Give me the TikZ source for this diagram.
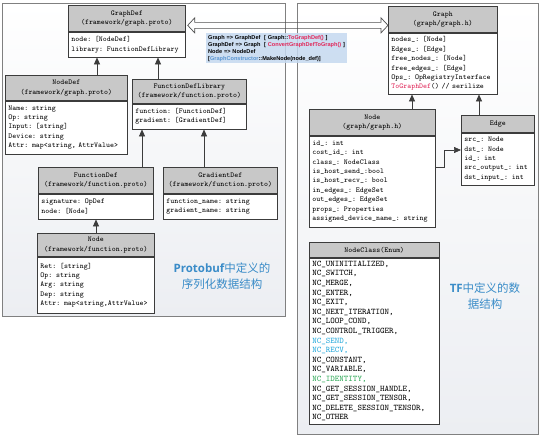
\documentclass[tikz,border=0pt]{standalone}
\usepackage{fontspec}
\usetikzlibrary{arrows.meta,shadows,calc}
\newfontfamily\cjkf{Noto Sans CJK SC}
\newfontfamily\opensans{Open Sans}
\newfontfamily\lsans{Liberation Sans}
\definecolor{hdrgray}{RGB}{200,200,200}
\definecolor{boxline}{RGB}{60,60,60}
\definecolor{panelline}{RGB}{128,128,128}
\definecolor{panelbot}{RGB}{236,238,242}
\definecolor{lblue}{RGB}{58,140,200}
\definecolor{notebg}{RGB}{197,217,240}
\definecolor{fnred}{RGB}{225,40,90}
\definecolor{ctorblue}{RGB}{90,150,210}
\definecolor{sendcyan}{RGB}{40,170,220}
\definecolor{idgreen}{RGB}{50,170,90}
\definecolor{arrgray}{RGB}{80,80,80}
\newcommand\bodyfont{\ttfamily\fontsize{7.5}{9.4}\selectfont}
\newcommand\enumfont{\ttfamily\fontsize{8.6}{9.6}\selectfont}
\tikzset{
 hdr/.style={draw=boxline, line width=0.7pt, fill=hdrgray, anchor=north west, inner sep=0pt, align=center, font=\bodyfont},
 bdy/.style={draw=boxline, line width=0.7pt, fill=white, anchor=north west, inner xsep=3pt, inner ysep=0pt, align=left, font=\bodyfont},
 panel/.style={draw=panelline, line width=0.8pt, top color=white, bottom color=panelbot, drop shadow={shadow xshift=1pt, shadow yshift=-1pt, opacity=0.35}},
 inh/.style={draw=boxline, line width=0.7pt, -{Triangle[width=6pt,length=7pt]}},
 cnlabel/.style={text=lblue, font=\cjkf\fontsize{11.5}{16}\selectfont, align=center},
}
\newcommand\clsbox[8]{%
  \pgfmathsetmacro\clstw{#4-6}%
  \node[hdr, minimum width=#4pt, minimum height=#5pt] (#1-h) at (#2,#3) {#7};
  \node[bdy, text width=\clstw pt, minimum height=#6pt] (#1-b) at (#1-h.south west) {#8};
}
\begin{document}
\begin{tikzpicture}[x=1pt,y=-1pt]
\useasboundingbox (0,0) rectangle (543,439);
% panels
\draw[panel] (2,3) rectangle (285,316);
\draw[panel] (297,3) rectangle (538,434);
% left side classes
\clsbox{gd}{68}{5}{117}{26}{25}{GraphDef\\(framework/graph.proto)}{node: [NodeDef]\\library: FunctionDefLibrary}
\clsbox{nd}{5}{75}{122}{25}{53}{NodeDef\\(framework/graph.proto)}{Name: string\\Op: string\\Input: [string]\\Device: string\\Attr: map<string, AttrValue>}
\clsbox{fdl}{132}{79}{114}{24}{25}{FunctionDefLibrary\\(framework/function.proto)}{function: [FunctionDef]\\gradient: [GradientDef]}
\clsbox{fd}{38}{167}{115}{26}{25}{FunctionDef\\(framework/function.proto)}{signature: OpDef\\node: [Node]}
\clsbox{grd}{163}{167}{114}{26}{25}{GradientDef\\(framework/function.proto)}{function\_name: string\\gradient\_name: string}
\clsbox{np}{37}{233}{117}{23}{56}{Node\\(framework/function.proto)}{Ret: [string]\\Op: string\\Arg: string\\Dep: string\\Attr: map<string,AttrValue>}
% right side classes
\clsbox{g}{388}{6}{109}{26}{61}{Graph\\(graph/graph.h)}{nodes\_: [Node]\\Edges\_: [Edge]\\free\_nodes\_: [Node]\\free\_edges\_: [Edge]\\Ops\_: OpRegistryInterface\\\textcolor{fnred}{ToGraphDef}() // serilize}
\clsbox{ng}{309}{109}{126}{26}{91}{Node\\(graph/graph.h)}{id\_: int\\cost\_id\_: int\\class\_: NodeClass\\is\_host\_send\_:bool\\is\_host\_recv\_: bool\\in\_edges\_: EdgeSet\\out\_edges\_: EdgeSet\\props\_: Properties\\assigned\_device\_name\_: string}
\clsbox{e}{461}{115}{73}{17}{52}{Edge}{src\_: Node\\dst\_: Node\\id\_: int\\src\_output\_: int\\dst\_input\_: int}
\node[hdr, minimum width=130pt, minimum height=15pt] (nc-h) at (309,242) {NodeClass(Enum)};
\node[bdy, font=\enumfont, text width=124pt, minimum height=166pt] (nc-b) at (nc-h.south west) {NC\_UNINITIALIZED,\\NC\_SWITCH,\\NC\_MERGE,\\NC\_ENTER,\\NC\_EXIT,\\NC\_NEXT\_ITERATION,\\NC\_LOOP\_COND,\\NC\_CONTROL\_TRIGGER,\\\textcolor{sendcyan}{NC\_SEND,}\\\textcolor{sendcyan}{NC\_RECV,}\\NC\_CONSTANT,\\NC\_VARIABLE,\\\textcolor{idgreen}{NC\_IDENTITY,}\\NC\_GET\_SESSION\_HANDLE,\\NC\_GET\_SESSION\_TENSOR,\\NC\_DELETE\_SESSION\_TENSOR,\\NC\_OTHER};
% inheritance arrows
\draw[inh] (nd-h.north -| 97,0) -- (gd-b.south -| 97,0);
\draw[inh] (fdl-h.north -| 158,0) -- (gd-b.south -| 158,0);
\draw[inh] (fd-h.north -| 142,0) -- (fdl-b.south -| 142,0);
\draw[inh] (grd-h.north -| 204,0) -- (fdl-b.south -| 204,0);
\draw[inh] (np-h.north -| 96,0) -- (fd-b.south -| 96,0);
\draw[inh] (ng-h.north -| 412,0) -- (g-b.south -| 412,0);
\draw[inh] (e-h.north -| 479,0) -- (g-b.south -| 479,0);
\draw[inh] (ng-b.east |- 0,167) -- ++(9,0) |- (e-b.west |- 0,150);
% labels
\node[cnlabel] (pblabel) at (222,276) {{\opensans\bfseries Protobuf}中定义的\\序列化数据结构};
\node[cnlabel] (tflabel) at (485,296) {{\opensans\bfseries TF}中定义的数\\据结构};
% note
\node[anchor=north west, fill=notebg, fill opacity=0.85, text opacity=1, minimum width=141pt, minimum height=30pt, inner xsep=2pt, inner ysep=1.5pt, text width=137pt, align=left, font=\lsans\bfseries\fontsize{5.6}{7}\selectfont] (note) at (206,33) {Graph => GraphDef\ \ [ Graph::\textcolor{fnred}{ToGraphDef()} ]\\GraphDef => Graph\ \ [ \textcolor{fnred}{ConvertGraphDefToGraph()} ]\\Node => NodeDef\\{}[\textcolor{ctorblue}{GraphConstructor}::MakeNode(node\_def)]};
% double hollow arrow
\path (gd-h.east) ++(2,7) coordinate (dL);
\path (g-h.west) ++(0,6) coordinate (dR);
\draw[arrgray, line width=0.7pt, line join=miter] (dL) -- ++(7,-7.5) -- ++(0,4.5) -- ($(dR)+(-7,-3)$) -- ++(0,-4.5) -- (dR) -- ++(-7,7.5) -- ++(0,-4.5) -- ($(dL)+(7,3)$) -- ++(0,4.5) -- cycle;
\end{tikzpicture}
\end{document}
